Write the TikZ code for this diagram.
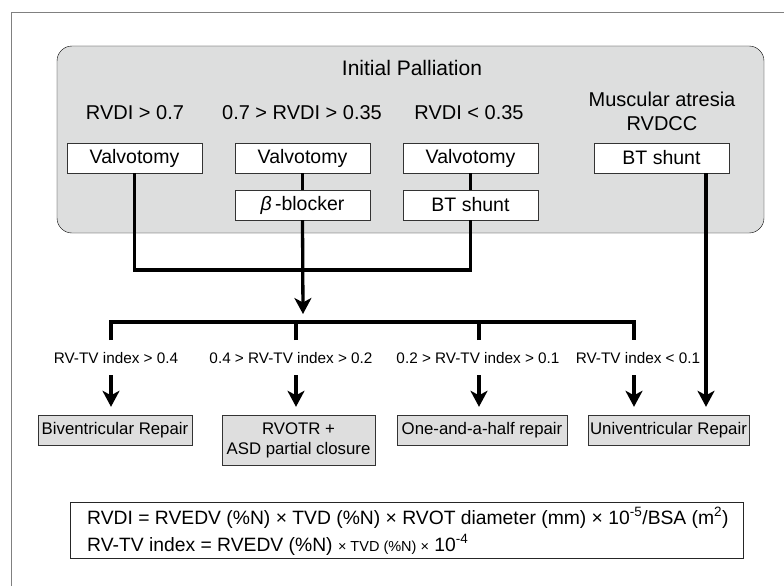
\documentclass[tikz,border=0pt]{standalone}
\usepackage{fontspec}
\setmainfont{Liberation Sans}
\usetikzlibrary{arrows.meta}
\definecolor{panel}{RGB}{221,222,222}
\definecolor{result}{RGB}{222,222,222}
\begin{document}
\begin{tikzpicture}[x=1pt,y=-1pt,
  box/.style={draw=black!80, fill=white, minimum width=135pt, minimum height=30pt, inner sep=0pt, font=\fontsize{19.5}{22}\selectfont},
  cond/.style={font=\fontsize{20}{24}\selectfont, align=center},
  index/.style={font=\fontsize{15.3}{18}\selectfont},
  repair/.style={draw=black!80, fill=result, minimum height=30pt, inner sep=0pt, align=center, font=\fontsize{16.8}{20}\selectfont},
  link/.style={line width=3.3pt},
  arrow/.style={line width=3.3pt, -{Stealth[length=16pt,width=17pt,inset=4.5pt]}}]
\useasboundingbox (0,0) rectangle (784,586);
\draw[gray, line width=1pt] (11,586) -- (11,13) -- (784,13);
% initial palliation panel
\draw[fill=panel, rounded corners=15pt] (57,46) rectangle (764,233);
\node[cond, font=\fontsize{21}{24}\selectfont] (title) at (412,68) {Initial Palliation};
\node[cond] (c1) at (135,113) {RVDI > 0.7};
\node[cond] (c2) at (302,113) {0.7 > RVDI > 0.35};
\node[cond] (c3) at (469,113) {RVDI < 0.35};
\node[cond] (c4) at (662,111) {Muscular atresia\\RVDCC};
\node[box] (valvo1) at (134.5,158) {Valvotomy};
\node[box] (valvo2) at (302.5,158) {Valvotomy};
\node[box] (valvo3) at (470.5,158) {Valvotomy};
\node[box] (shunt1) at (661.5,158) {BT shunt};
\node[box] (blocker) at (302.5,205) {\textit{β}\,-blocker};
\node[box] (shunt2) at (470.5,205) {BT shunt};
\draw[link] (valvo2) -- (blocker);
\draw[link] (valvo3) -- (shunt2);
\coordinate (join) at (303,270);
\coordinate (split) at (303,314);
\draw[link] (valvo1.south) |- (join) -| (shunt2.south);
\draw[arrow] (blocker.south) -- (split);
% branches
\coordinate (b1) at (111,340);
\coordinate (b2) at (296,340);
\coordinate (b3) at (479,340);
\coordinate (b4) at (634,340);
\coordinate (bar) at (0,322);
\draw[link] (b1) |- (b4 |- bar) -- (b4);
\draw[link] (b2) -- (b2 |- bar);
\draw[link] (b3) -- (b3 |- bar);
\node[index] (i1) at (116,358) {RV-TV index > 0.4};
\node[index] (i2) at (291,358) {0.4 > RV-TV index > 0.2};
\node[index] (i3) at (478,358) {0.2 > RV-TV index > 0.1};
\node[index] (i4) at (638,358) {RV-TV index < 0.1};
% repairs
\node[repair, minimum width=154pt] (biv) at (115,430) {Biventricular Repair};
\node[repair, minimum width=153pt, minimum height=50pt] (rvotr) at (298.5,440) {RVOTR +\\ASD partial closure};
\node[repair, minimum width=170pt] (half) at (482,430) {One-and-a-half repair};
\node[repair, minimum width=161pt] (univ) at (668.5,430) {Univentricular Repair};
\coordinate (a1) at (111,375);
\coordinate (a2) at (296,375);
\coordinate (a3) at (479,375);
\coordinate (a4) at (634,375);
\coordinate (a5) at (706,173);
\draw[arrow, shorten >=8pt] (a1) -- (a1 |- biv.north);
\draw[arrow, shorten >=8pt] (a2) -- (a2 |- rvotr.north);
\draw[arrow, shorten >=8pt] (a3) -- (a3 |- half.north);
\draw[arrow, shorten >=8pt] (a4) -- (a4 |- univ.north);
\draw[arrow, shorten >=8pt] (a5) -- (a5 |- univ.north);
% definitions
\node[draw=black!85, minimum width=673pt, minimum height=56pt] (defs) at (406.5,530) {};
\node[anchor=west, inner sep=0pt, font=\fontsize{19.3}{22}\selectfont] (rvdi) at (87,518)
  {RVDI = RVEDV (\%N) × TVD (\%N) × RVOT diameter (mm) × 10\textsuperscript{-5}/BSA (m\textsuperscript{2})};
\node[anchor=west, inner sep=0pt, font=\fontsize{19.3}{22}\selectfont] (rvtv) at (87,545)
  {RV-TV index = RVEDV (\%N) {\fontsize{14.5}{16}\selectfont × TVD (\%N) ×} 10\textsuperscript{-4}};
\end{tikzpicture}
\end{document}
